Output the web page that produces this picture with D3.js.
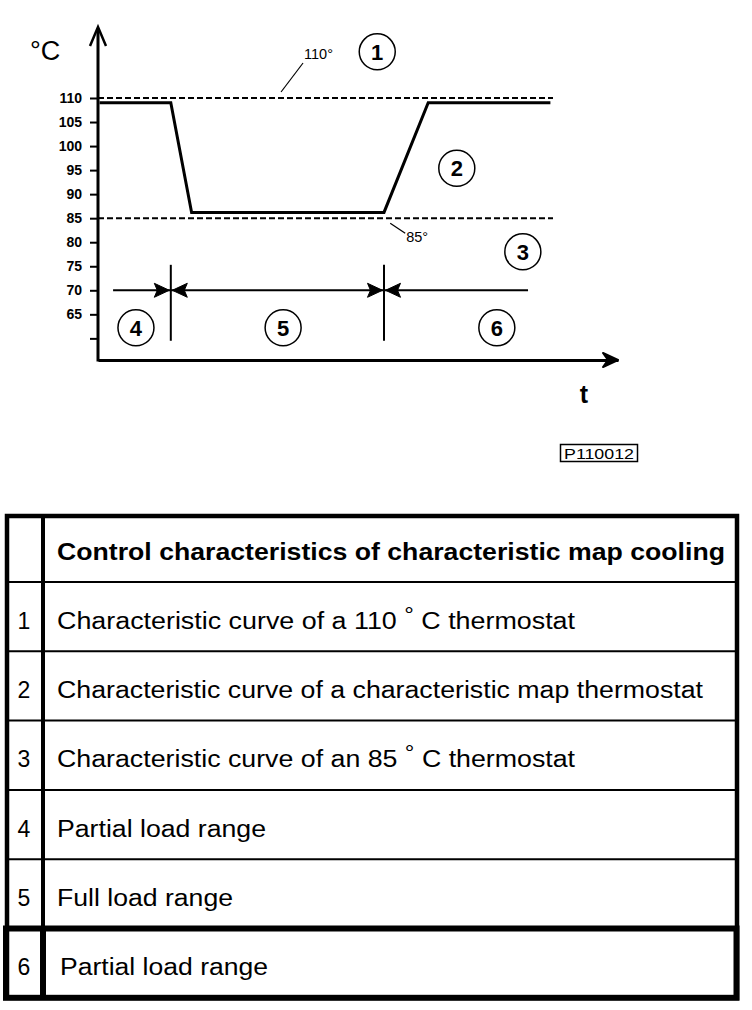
<!DOCTYPE html>
<html>
<head>
<meta charset="utf-8">
<script src="https://cdn.jsdelivr.net/npm/d3@7"></script>
<style>
  html, body { margin: 0; padding: 0; background: #fff; }
  svg { display: block; font-family: "Liberation Sans", Arial, sans-serif; }
</style>
</head>
<body>
<svg id="chart" width="752" height="1010"></svg>
<script>
'use strict';

// Temperature ticks on the vertical axis (the last one has no label).
var tempTicks = [110, 105, 100, 95, 90, 85, 80, 75, 70, 65, 60];

// Characteristic map thermostat curve (time in arbitrary units, temp in degC).
var curveTime = [0.3, 14, 18, 55, 63.5, 87];
var curveTemp = [109, 109, 86.2, 86.2, 109, 109];

// Fixed thermostat lines.
var thermostatTemps = [110, 85];
var thermostatLabels = ['110\u00b0', '85\u00b0'];
var thermostatLabelTime = [35.2, 56.2];
var thermostatEnd = 87.5;

// Partial / full load ranges.
var loadBounds = [14, 55];
var loadSpan = [2.9, 82.7];
var loadLineTemp = 70;

// Circled callouts.
var calloutText = ['1', '2', '3', '4', '5', '6'];
var calloutTime = [53.7, 69, 81.7, 7.3, 35.6, 76.7];
var calloutTemp = [119.6, 95.4, 78, 62.2, 62.2, 62.2];

// Legend table.
var tableHeader = 'Control characteristics of characteristic map cooling';
var tableNumbers = ['1', '2', '3', '4', '5', '6'];
var tableTexts = [
  ['Characteristic curve of a 110 ', '\u00b0', ' C thermostat'],
  ['Characteristic curve of a characteristic map thermostat'],
  ['Characteristic curve of an 85 ', '\u00b0', ' C thermostat'],
  ['Partial load range'],
  ['Full load range'],
  ['Partial load range']
];

var svg = d3.select('#chart');

var x = d3.scaleLinear().domain([0, 100]).range([98, 618]);
var y = d3.scaleLinear().domain([55.5, 110]).range([360, 98]);

var chart = svg.append('g').attr('class', 'chart');

/**
  Axes: a thick vertical temperature axis with ticks, and a time axis
  without ticks, each ending in an arrow head.
 */
var yAxis = d3.axisLeft(y)
  .tickValues(tempTicks)
  .tickSize(8)
  .tickPadding(8)
  .tickFormat(function(d) { return d === 60 ? '' : d; });

var yAxisG = chart.append('g')
  .attr('transform', 'translate(' + x(0) + ',0)')
  .call(yAxis);
yAxisG.select('.domain').remove();
yAxisG.selectAll('.tick line').attr('stroke', '#000').attr('stroke-width', 2);
yAxisG.selectAll('.tick text')
  .attr('fill', '#000')
  .attr('font-size', 14)
  .attr('font-weight', 'bold')
  .attr('font-family', '"Liberation Sans", Arial, sans-serif');

var xAxisG = chart.append('g')
  .attr('transform', 'translate(0,' + y(55.5) + ')')
  .call(d3.axisBottom(x).tickValues([]).tickSizeOuter(0));
xAxisG.select('.domain').attr('stroke', '#000').attr('stroke-width', 3);

var x0 = x(0), yBase = y(55.5);
chart.append('line')
  .attr('x1', x0).attr('x2', x0)
  .attr('y1', yBase + 1.5).attr('y2', 29)
  .attr('stroke', '#000').attr('stroke-width', 3);

// arrow heads
chart.append('path')
  .attr('d', 'M' + (x0 - 8) + ',46 L' + x0 + ',27 L' + (x0 + 8) + ',46')
  .attr('fill', 'none').attr('stroke', '#000').attr('stroke-width', 2.5);
var xEnd = x(100);
chart.append('path')
  .attr('d', 'M' + xEnd + ',' + yBase +
      ' L' + (xEnd - 15) + ',' + (yBase - 7) +
      ' L' + (xEnd - 10) + ',' + yBase +
      ' L' + (xEnd - 15) + ',' + (yBase + 7) + 'Z')
  .attr('fill', '#000').attr('stroke', '#000').attr('stroke-width', 2)
  .attr('stroke-linejoin', 'round');

chart.append('text')
  .attr('x', 30).attr('y', 60)
  .attr('font-size', 27)
  .text('\u00b0C');

chart.append('text')
  .attr('x', 584).attr('y', 403)
  .attr('text-anchor', 'middle')
  .attr('font-size', 25).attr('font-weight', 'bold')
  .text('t');

// Drawing reference tag.
chart.append('rect')
  .attr('x', 560.5).attr('y', 444.5).attr('width', 77).attr('height', 17)
  .attr('fill', 'none').attr('stroke', '#000').attr('stroke-width', 1.5);
chart.append('text')
  .attr('x', 599).attr('y', 458.5)
  .attr('text-anchor', 'middle')
  .attr('font-size', 14)
  .attr('textLength', 70).attr('lengthAdjust', 'spacingAndGlyphs')
  .text('P110012');

/**
  Thermostat reference lines (dashed) with their leader labels.
 */
thermostatTemps.forEach(function(t, i) {
  chart.append('line')
    .attr('x1', x(0)).attr('x2', x(thermostatEnd))
    .attr('y1', y(t)).attr('y2', y(t))
    .attr('stroke', '#000').attr('stroke-width', 2)
    .attr('stroke-dasharray', '6,3');

  var lx = x(thermostatLabelTime[i]),
      up = i === 0;
  var ly0 = y(t) + (up ? -6 : 5),
      lx1 = lx + (up ? 22 : 15),
      ly1 = ly0 + (up ? -29 : 10);
  chart.append('line')
    .attr('x1', lx).attr('y1', ly0)
    .attr('x2', lx1).attr('y2', ly1)
    .attr('stroke', '#000').attr('stroke-width', 1.2);
  chart.append('text')
    .attr('x', lx1 + 1)
    .attr('y', up ? ly1 - 4 : ly1 + 9)
    .attr('font-size', 14.5)
    .text(thermostatLabels[i]);
});

// Characteristic map curve.
var line = d3.line()
  .x(function(d) { return x(d[0]); })
  .y(function(d) { return y(d[1]); });

chart.append('path')
  .datum(d3.zip(curveTime, curveTemp))
  .attr('d', line)
  .attr('fill', 'none')
  .attr('stroke', '#000')
  .attr('stroke-width', 3)
  .attr('stroke-linejoin', 'miter');

/**
  Load range markers: one horizontal line, two boundaries, and arrow
  heads pointing at each boundary from both sides.
 */
var ly = y(loadLineTemp);
chart.append('line')
  .attr('x1', x(loadSpan[0])).attr('x2', x(loadSpan[1]))
  .attr('y1', ly).attr('y2', ly)
  .attr('stroke', '#000').attr('stroke-width', 2);

loadBounds.forEach(function(b) {
  var bx = x(b);
  chart.append('line')
    .attr('x1', bx).attr('x2', bx)
    .attr('y1', y(75.3)).attr('y2', y(59.5))
    .attr('stroke', '#000').attr('stroke-width', 2);
  [-1, 1].forEach(function(side) {
    var tip = bx + side * 1.5;
    chart.append('path')
      .attr('d', 'M' + tip + ',' + ly +
          ' L' + (tip + side * 15) + ',' + (ly - 7) +
          ' L' + (tip + side * 12) + ',' + ly +
          ' L' + (tip + side * 15) + ',' + (ly + 7) + 'Z')
      .attr('fill', '#000')
      .attr('stroke', '#000').attr('stroke-width', 1)
      .attr('stroke-linejoin', 'round');
  });
});

// Circled callouts.
var callouts = chart.selectAll('g.callout')
  .data(d3.zip(calloutTime, calloutTemp, calloutText))
  .enter().append('g')
  .attr('class', 'callout')
  .attr('transform', function(d) {
    return 'translate(' + x(d[0]) + ',' + y(d[1]) + ')';
  });
callouts.append('circle')
  .attr('r', 18)
  .attr('fill', '#fff')
  .attr('stroke', '#000')
  .attr('stroke-width', 1.5);
callouts.append('text')
  .attr('text-anchor', 'middle')
  .attr('y', 8)
  .attr('font-size', 22)
  .attr('font-weight', 'bold')
  .text(function(d) { return d[2]; });

/**
  Legend table below the chart.
 */
var table = svg.append('g').attr('class', 'legend-table');
var tLeft = 7, tRight = 737, tDiv = 43, tTop = 516, headBottom = 582,
    rowH = 69.3;
var textWidths = [518, 646, 518, 209, 176, 208];

var rowY = function(i) { return headBottom + i * rowH; };
var tBottom = rowY(tableNumbers.length);

table.append('rect')
  .attr('x', tLeft).attr('y', tTop)
  .attr('width', tRight - tLeft).attr('height', tBottom - tTop)
  .attr('fill', 'none').attr('stroke', '#000').attr('stroke-width', 4.5);
table.append('line')
  .attr('x1', tDiv).attr('x2', tDiv)
  .attr('y1', tTop).attr('y2', tBottom)
  .attr('stroke', '#000').attr('stroke-width', 4);

d3.range(tableNumbers.length).forEach(function(i) {
  table.append('line')
    .attr('x1', tLeft).attr('x2', tRight)
    .attr('y1', rowY(i)).attr('y2', rowY(i))
    .attr('stroke', '#000').attr('stroke-width', 2);
});

// The last row is boxed in heavier lines.
var last = tableNumbers.length - 1;
table.append('rect')
  .attr('x', tLeft - 1).attr('y', rowY(last))
  .attr('width', tRight - tLeft + 0.5).attr('height', rowH)
  .attr('fill', 'none').attr('stroke', '#000').attr('stroke-width', 6);
table.append('line')
  .attr('x1', tDiv).attr('x2', tDiv)
  .attr('y1', rowY(last)).attr('y2', rowY(last) + rowH)
  .attr('stroke', '#000').attr('stroke-width', 6);

table.append('text')
  .attr('x', 57).attr('y', 560)
  .attr('font-size', 23.5).attr('font-weight', 'bold')
  .attr('textLength', 668).attr('lengthAdjust', 'spacingAndGlyphs')
  .text(tableHeader);

tableNumbers.forEach(function(n, i) {
  var base = rowY(i) + rowH / 2 + 12;
  table.append('text')
    .attr('x', 24).attr('y', base)
    .attr('text-anchor', 'middle')
    .attr('font-size', 23)
    .text(n);

  var t = table.append('text')
    .attr('x', i === last ? 60 : 57).attr('y', base)
    .attr('font-size', 23.5)
    .attr('textLength', textWidths[i])
    .attr('lengthAdjust', 'spacingAndGlyphs');
  var parts = tableTexts[i];
  t.append('tspan').text(parts[0]);
  if (parts.length > 1) {
    t.append('tspan').attr('dy', -7).attr('font-size', 21).text(parts[1]);
    t.append('tspan').attr('dy', 7).text(parts[2]);
  }
});
</script>
</body>
</html>
